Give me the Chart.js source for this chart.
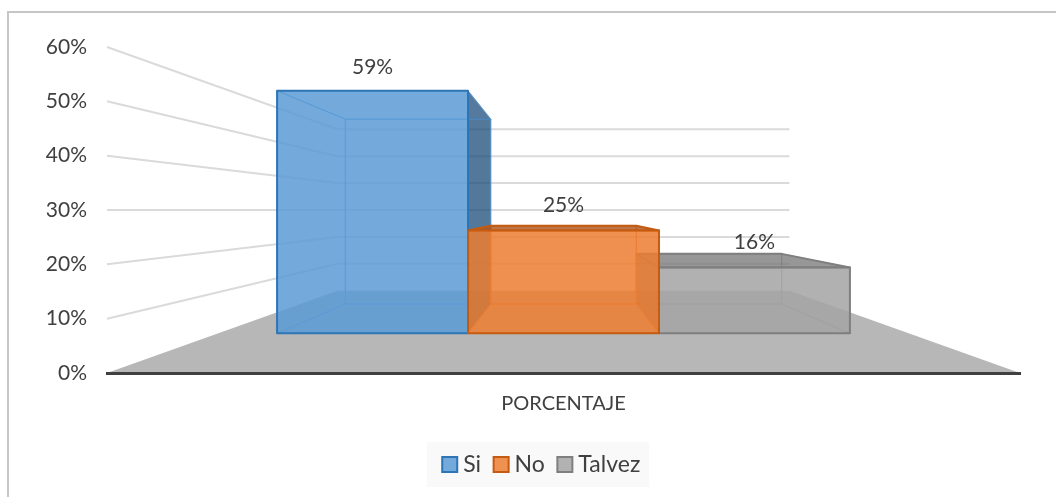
<!DOCTYPE html>
<html>
<head>
<meta charset="utf-8">
<style>
html, body { margin: 0; padding: 0; background: #fff; overflow: hidden; }
#frame { position: absolute; left: 7px; top: 11px; width: 1056px; height: 497px; border-left: 2px solid #c6c6c6; border-top: 2px solid #c6c6c6; }
canvas { position: absolute; left: 0; top: 0; }
</style>
<script src="https://cdn.jsdelivr.net/npm/chart.js@4/dist/chart.umd.js"></script>
</head>
<body>
<div id="frame"></div>
<canvas id="chart" width="1056" height="497"></canvas>
<script>
// chart values
const categories = ['PORCENTAJE'];
const siValues = [59];
const noValues = [25];
const talvezValues = [16];
const yMax = 60;
const yStep = 10;

const FONT = 'Lato';
const TEXT = '#404040';

// depth of the room, as fractions front -> back
const ROOM_SHRINK = 1.02;
const BAR_FRONT = 0.315;
const BAR_BACK = 0.72;

// value where the eye sits, lines at this height stay flat
const EYE_VALUE = 30;

// legend sits a bit right of the canvas centre
const LEGEND_SHIFT = 14;

function project(chart, px, py, d) {
    const area = chart.chartArea;
    const cx = (area.left + area.right) / 2;
    const cy = chart.scales.y.getPixelForValue(EYE_VALUE);
    const s = 1 / (1 + ROOM_SHRINK * d);
    return [cx + (px - cx) * s, cy + (py - cy) * s];
}

function face(ctx, pts, fill, stroke, lw) {
    ctx.beginPath();
    pts.forEach((p, i) => i ? ctx.lineTo(p[0], p[1]) : ctx.moveTo(p[0], p[1]));
    ctx.closePath();
    if (fill) { ctx.fillStyle = fill; ctx.fill(); }
    if (stroke) { ctx.strokeStyle = stroke; ctx.lineWidth = lw; ctx.lineJoin = 'round'; ctx.stroke(); }
}

function drawRoom(chart, ctx) {
    const area = chart.chartArea;
    const y = chart.scales.y;
    const p = (px, py, d) => project(chart, px, py, d);
    const bottom = y.getPixelForValue(0);

    face(ctx, [p(area.left, bottom, 0), p(area.right, bottom, 0), p(area.right, bottom, 1), p(area.left, bottom, 1)], '#b7b7b7');

    ctx.strokeStyle = '#dadada';
    ctx.lineWidth = 2;
    y.ticks.forEach(t => {
        if (t.value === 0) return;
        const py = y.getPixelForValue(t.value);
        const a = p(area.left, py, 0), b = p(area.left, py, 1), c = p(area.right, py, 1);
        ctx.beginPath();
        ctx.moveTo(a[0], a[1]);
        ctx.lineTo(b[0], b[1]);
        ctx.lineTo(c[0], c[1]);
        ctx.stroke();
    });
}

function drawBar(chart, ctx, index) {
    const ds = chart.data.datasets[index];
    const el = chart.getDatasetMeta(index).data[0];
    const opt = el.options;
    const l = el.x - el.width / 2, r = el.x + el.width / 2, t = el.y, b = el.base;
    const F = (px, py) => project(chart, px, py, BAR_FRONT);
    const B = (px, py) => project(chart, px, py, BAR_BACK);
    const edge = ds.backEdge;

    // back, floor, sides, lid: the ones turned to us are solid, the others see-through
    face(ctx, [B(l, t), B(r, t), B(r, b), B(l, b)], ds.innerFace, edge, 1);
    face(ctx, [F(l, b), F(r, b), B(r, b), B(l, b)], ds.innerFace, edge, 1);
    const leftOut = B(l, t)[0] < F(l, t)[0];
    const rightOut = B(r, t)[0] > F(r, t)[0];
    const topOut = B(l, t)[1] < F(l, t)[1];
    face(ctx, [F(l, t), B(l, t), B(l, b), F(l, b)], leftOut ? ds.outerFace : ds.innerFace, edge, 1);
    face(ctx, [F(r, t), B(r, t), B(r, b), F(r, b)], rightOut ? ds.outerFace : ds.innerFace, edge, 1);
    face(ctx, [F(l, t), F(r, t), B(r, t), B(l, t)], topOut ? ds.outerFace : ds.innerFace, topOut ? opt.borderColor : edge, topOut ? 2 : 1);
    face(ctx, [F(l, t), F(r, t), F(r, b), F(l, b)], opt.backgroundColor, opt.borderColor, opt.borderWidth);
}

function drawLabel(chart, ctx, index) {
    const ds = chart.data.datasets[index];
    const el = chart.getDatasetMeta(index).data[0];
    const front = project(chart, el.x, el.y, BAR_FRONT);
    const back = project(chart, el.x, el.y, BAR_BACK);
    ctx.fillStyle = TEXT;
    ctx.font = '21px ' + FONT;
    ctx.textAlign = 'center';
    ctx.textBaseline = 'middle';
    ctx.fillText(ds.data[0] + '%', front[0], Math.min(front[1], back[1]) - ds.labelLift);
}

const room3d = {
    id: 'room3d',
    afterLayout(chart) {
        const lg = chart.legend;
        lg.left += LEGEND_SHIFT;
        lg.right += LEGEND_SHIFT;
        lg.legendHitBoxes.forEach(h => { h.left += LEGEND_SHIFT; });
    },
    beforeDraw(chart) {
        // pale box behind the legend
        const boxes = chart.legend.legendHitBoxes;
        const first = boxes[0], last = boxes[boxes.length - 1];
        const left = first.left - 21, right = last.left + last.width + 9;
        const ctx = chart.ctx;
        ctx.fillStyle = '#f9f9f9';
        ctx.fillRect(left, first.top + first.height / 2 - 22.5, right - left, 45);
    },
    beforeDatasetsDraw(chart) {
        const ctx = chart.ctx;
        drawRoom(chart, ctx);
        // middle bar last, it sits over its neighbours
        [0, 2, 1].forEach(i => drawBar(chart, ctx, i));
        [0, 1, 2].forEach(i => drawLabel(chart, ctx, i));
        return false;
    }
};

new Chart(document.getElementById('chart'), {
    type: 'bar',
    plugins: [room3d],
    data: {
        labels: categories,
        datasets: [
            {
                label: 'Si', data: siValues,
                backgroundColor: 'rgba(91,155,213,0.84)', borderColor: '#2e75b6', borderWidth: 2,
                backEdge: 'rgba(91,155,213,0.8)', outerFace: 'rgba(31,78,121,0.75)',
                innerFace: 'rgba(46,117,182,0.06)', labelLift: 24
            },
            {
                label: 'No', data: noValues,
                backgroundColor: 'rgba(237,125,49,0.84)', borderColor: '#c55a11', borderWidth: 2,
                backEdge: 'rgba(237,125,49,0.8)', outerFace: 'rgba(170,85,30,0.8)',
                innerFace: 'rgba(197,90,17,0.05)', labelLift: 20
            },
            {
                label: 'Talvez', data: talvezValues,
                backgroundColor: 'rgba(165,165,165,0.84)', borderColor: '#7f7f7f', borderWidth: 2,
                backEdge: 'rgba(127,127,127,0.5)', outerFace: 'rgba(120,120,120,0.75)',
                innerFace: 'rgba(120,120,120,0.08)', labelLift: 12
            }
        ]
    },
    options: {
        responsive: false,
        animation: false,
        events: [],
        categoryPercentage: 0.829,
        barPercentage: 1,
        layout: { padding: { left: 40, right: 36, top: 47, bottom: 11 } },
        scales: {
            x: {
                afterFit(scale) { scale.height = 62; },
                grid: { display: false },
                border: { display: true, color: TEXT, width: 3, z: 1 },
                ticks: { color: TEXT, font: { family: FONT, size: 20 }, padding: 11, maxRotation: 0 }
            },
            y: {
                min: 0,
                max: yMax,
                afterFit(scale) { scale.width = 67; },
                grid: { display: false, drawTicks: false },
                border: { display: false },
                ticks: {
                    stepSize: yStep,
                    color: TEXT,
                    padding: 20,
                    font: { family: FONT, size: 21 },
                    callback: v => v + '%'
                }
            }
        },
        plugins: {
            title: { display: false },
            tooltip: { enabled: false },
            legend: {
                position: 'bottom',
                labels: {
                    color: TEXT,
                    font: { family: FONT, size: 23 },
                    usePointStyle: true,
                    pointStyle: 'rect',
                    boxWidth: 4,
                    boxHeight: 15,
                    padding: 18
                }
            }
        }
    }
});
</script>
</body>
</html>
